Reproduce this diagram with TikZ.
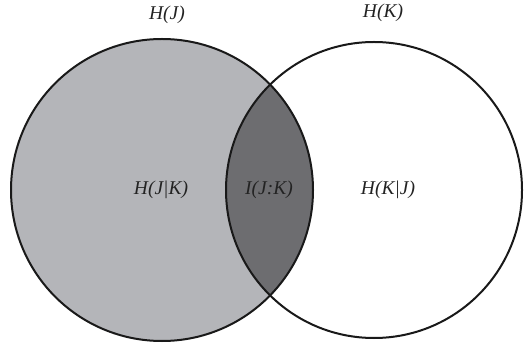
\documentclass[tikz,border=0pt]{standalone}
\usepackage{fontspec}
\setmainfont{Liberation Serif}
\usetikzlibrary{positioning}

\definecolor{jfill}{RGB}{180,181,185}
\definecolor{jkfill}{RGB}{109,109,112}
\definecolor{lbltext}{RGB}{35,35,35}

\begin{document}
\begin{tikzpicture}[x=1pt, y=-1pt,
  lbl/.style={font=\fontsize{19.5}{22}\selectfont\itshape, text=lbltext, inner sep=0pt},
  ring/.style={line width=2pt, draw=black!90}]

\useasboundingbox (0,0) rectangle (530,347);

\coordinate (cj) at (162,190);
\coordinate (ck) at (374,190);

% the two entropies
\fill[jfill] (cj) circle (151pt);
\begin{scope}
  \clip (cj) circle (151pt);
  \fill[jkfill] (ck) circle (148pt);
\end{scope}
\draw[ring] (cj) circle (151pt);
\draw[ring] (ck) circle (148pt);

\node[lbl] (hj) at (167,15) {H(J)};
\node[lbl] (hk) at (383,13) {H(K)};

\node[lbl] (hjk) at (161,190) {H(J|K)};
\node[lbl] (ijk) at (269,190) {I(J:K)};
\node[lbl] (hkj) at (388,190) {H(K|J)};

\end{tikzpicture}
\end{document}
